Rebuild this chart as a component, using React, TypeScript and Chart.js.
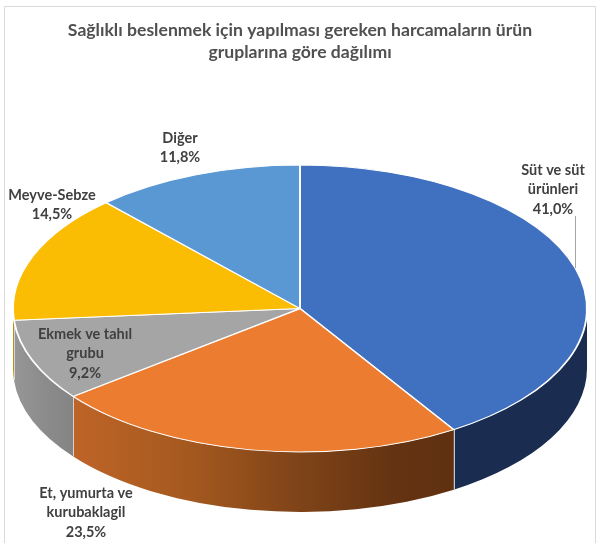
import React, { useEffect, useRef } from "react";
import { Chart, registerables } from "chart.js";

Chart.register(...registerables);

const categories = [
  ["Süt ve süt", "ürünleri"],
  ["Et, yumurta ve", "kurubaklagil"],
  ["Ekmek ve tahıl", "grubu"],
  ["Meyve-Sebze"],
  ["Diğer"],
];
const values = [41.0, 23.5, 9.2, 14.5, 11.8];
const topColors = ["#4070C0", "#EC7C30", "#A5A5A5", "#FBBC04", "#5A98D4"];
const titleLines = [
  "Sağlıklı beslenmek için yapılması gereken harcamaların ürün",
  "gruplarına göre dağılımı",
];

// Rendering geometry (not data)
const GEO = { cx: 300, cy: 308.5, rx: 287, ry: 143.5, depth: 60 };
const sideStops: [number, string][][] = [
  [[0, "#1A2C50"], [1, "#1A2C50"]],
  [[0, "#BE6428"], [0.3, "#A5591F"], [0.6, "#7E4318"], [0.85, "#643311"], [1, "#5F3010"]],
  [[0, "#969696"], [0.5, "#8C8C8C"], [1, "#848484"]],
  [[0, "#B88A00"], [1, "#B88A00"]],
  [[0, "#3A6EA0"], [1, "#3A6EA0"]],
];
const labelCenters = [
  { x: 553, y: 170 },
  { x: 86, y: 493 },
  { x: 85, y: 334 },
  { x: 52, y: 195 },
  { x: 180, y: 138 },
];
const LINE_H = 19.5;

const pie3d = {
  id: "pie3d",
  beforeDraw(chart: any) {
    const { ctx, width } = chart;
    ctx.save();
    ctx.strokeStyle = "#D9D9D9";
    ctx.lineWidth = 1;
    ctx.beginPath();
    ctx.moveTo(4.5, 543);
    ctx.lineTo(4.5, 6.5);
    ctx.lineTo(width - 4.5, 6.5);
    ctx.lineTo(width - 4.5, 543);
    ctx.stroke();
    ctx.restore();
  },
  beforeDatasetsDraw(chart: any) {
    const { ctx } = chart;
    const arcs = chart.getDatasetMeta(0).data;
    const { cx, cy, rx, ry, depth } = GEO;
    ctx.save();
    arcs.forEach((arc: any, i: number) => {
      const a = Math.max(arc.startAngle, 0);
      const b = Math.min(arc.endAngle, Math.PI);
      if (b <= a) return;
      const x0 = cx + rx * Math.cos(b);
      const x1 = cx + rx * Math.cos(a);
      const g = ctx.createLinearGradient(x0, 0, x1, 0);
      sideStops[i].forEach(([o, c]) => g.addColorStop(o, c));
      ctx.beginPath();
      ctx.ellipse(cx, cy, rx, ry, 0, a, b);
      ctx.lineTo(x0, cy + ry * Math.sin(b) + depth);
      ctx.ellipse(cx, cy + depth, rx, ry, 0, b, a, true);
      ctx.closePath();
      ctx.fillStyle = g;
      ctx.fill();
    });
    // vertical seams between side faces
    ctx.strokeStyle = "rgba(225,225,225,0.85)";
    ctx.lineWidth = 1;
    arcs.forEach((arc: any) => {
      const e = arc.endAngle;
      if (e > 0 && e < Math.PI) {
        const x = Math.round(cx + rx * Math.cos(e)) + 0.5;
        const y = cy + ry * Math.sin(e);
        ctx.beginPath();
        ctx.moveTo(x, y);
        ctx.lineTo(x, y + depth);
        ctx.stroke();
      }
    });
    ctx.restore();
    // Squash the library's circular pie to the tilted ellipse
    const first = arcs[0];
    const R = first.outerRadius;
    ctx.save();
    ctx.translate(cx, cy);
    ctx.scale(rx / R, ry / R);
    ctx.translate(-first.x, -first.y);
  },
  afterDatasetsDraw(chart: any) {
    chart.ctx.restore();
  },
  afterDraw(chart: any) {
    const { ctx } = chart;
    const arcs = chart.getDatasetMeta(0).data;
    ctx.save();
    // leader line for the first slice
    ctx.strokeStyle = "#A6A6A6";
    ctx.lineWidth = 1;
    ctx.beginPath();
    ctx.moveTo(575.5, 216);
    ctx.lineTo(575.5, 268);
    ctx.stroke();
    ctx.font = "bold 14.5px Lato";
    ctx.textAlign = "center";
    ctx.textBaseline = "middle";
    ctx.fillStyle = "#404040";
    arcs.forEach((_: any, i: number) => {
      const lines = [...categories[i], values[i].toFixed(1).replace(".", ",") + "%"];
      lines.forEach((t, k) => {
        ctx.fillText(t, labelCenters[i].x, labelCenters[i].y + k * LINE_H);
      });
    });
    ctx.restore();
  },
};

export default function App() {
  const ref = useRef<HTMLCanvasElement>(null);
  useEffect(() => {
    document.body.style.margin = "0";
    document.body.style.background = "#fff";
    const chart = new Chart(ref.current!, {
      type: "pie",
      data: {
        labels: categories.map((c) => c.join(" ")),
        datasets: [
          {
            data: values,
            backgroundColor: topColors,
            borderColor: "#FFFFFF",
            borderWidth: 1.6,
            clip: false,
          } as any,
        ],
      },
      options: {
        responsive: false,
        animation: false,
        layout: { padding: 0 },
        plugins: {
          legend: { display: false },
          tooltip: { enabled: false },
          title: {
            display: true,
            text: titleLines,
            color: "#505050",
            font: { family: "Lato", size: 17.6, weight: "bold", lineHeight: 1.25 },
            padding: { top: 19, bottom: 10 },
          },
        },
      },
      plugins: [pie3d],
    });
    return () => chart.destroy();
  }, []);
  return <canvas ref={ref} width={600} height={549} style={{ display: "block" }} />;
}
